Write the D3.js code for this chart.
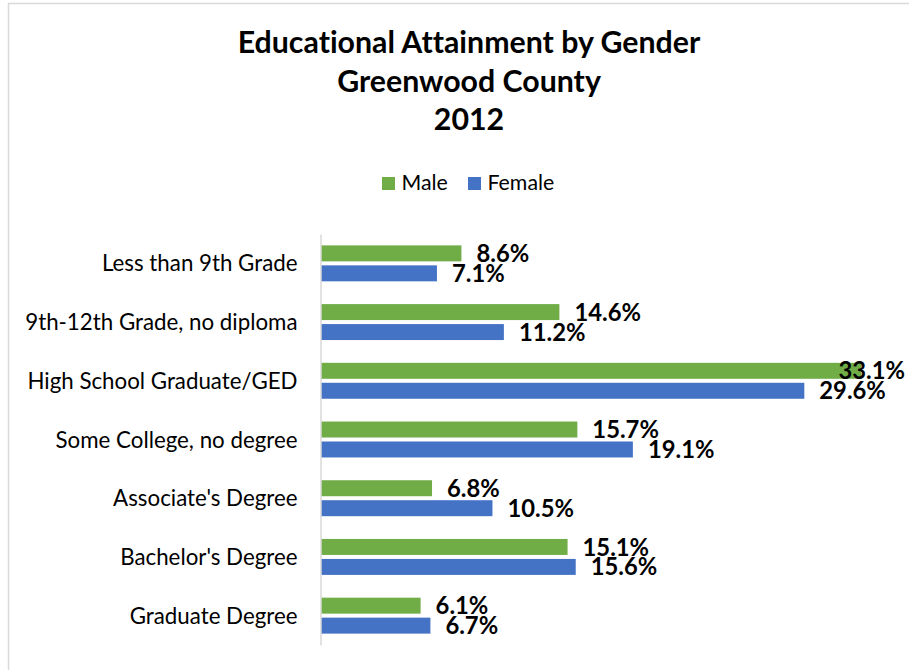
<!DOCTYPE html>
<html>
<head>
<meta charset="utf-8">
<script src="https://cdn.jsdelivr.net/npm/d3@7"></script>
<style>
  html, body { margin: 0; padding: 0; background: #fff; }
  svg { display: block; font-family: Lato, "Open Sans", sans-serif; font-variant-ligatures: none; }
</style>
</head>
<body>
<svg id="chart" width="909" height="670"></svg>
<script>
// Educational attainment (% of population 25+) by gender
const categories = [
  "Less than 9th Grade",
  "9th-12th Grade, no diploma",
  "High School Graduate/GED",
  "Some College, no degree",
  "Associate's Degree",
  "Bachelor's Degree",
  "Graduate Degree"
];
const seriesNames = ["Male", "Female"];
const maleValues   = [8.6, 14.6, 33.1, 15.7, 6.8, 15.1, 6.1];
const femaleValues = [7.1, 11.2, 29.6, 19.1, 10.5, 15.6, 6.7];
const seriesColors = ["#70AD47", "#4472C4"];
const titleLines = ["Educational Attainment by Gender", "Greenwood County", "2012"];

const rows = categories.map((c, i) => ({
  category: c,
  values: [
    { series: "Male", value: maleValues[i] },
    { series: "Female", value: femaleValues[i] }
  ]
}));

const svg = d3.select("#chart");
const centerX = 469;

// chart frame
svg.append("rect")
  .attr("x", 8.5).attr("y", 3.5)
  .attr("width", 940).attr("height", 700)
  .attr("fill", "#fff")
  .attr("stroke", "#d9d9d9")
  .attr("stroke-width", 1.5);

// title
svg.append("g").selectAll("text")
  .data(titleLines)
  .join("text")
  .attr("x", centerX)
  .attr("y", (d, i) => 53 + i * 38.5)
  .attr("text-anchor", "middle")
  .attr("font-weight", 700)
  .attr("font-size", 30.3)
  .attr("fill", "#000")
  .text(d => d);

// legend
const color = d3.scaleOrdinal().domain(seriesNames).range(seriesColors);
const legendX = [382, 468];
const legend = svg.append("g").selectAll("g")
  .data(seriesNames)
  .join("g")
  .attr("transform", (d, i) => `translate(${legendX[i]},177)`);
legend.append("rect")
  .attr("width", 13).attr("height", 13)
  .attr("fill", d => color(d));
legend.append("text")
  .attr("x", 19.5).attr("y", 13)
  .attr("font-size", 21.3)
  .attr("fill", "#000")
  .text(d => d);

// scales
const x = d3.scaleLinear().domain([0, 35]).range([321, 892.5]);
const y0 = d3.scaleBand().domain(categories).range([234, 645]);
const y1 = d3.scaleBand().domain(seriesNames)
  .range([0, y0.bandwidth()])
  .paddingInner(0.2)
  .paddingOuter(0.57);

// bars
const groups = svg.append("g").selectAll("g")
  .data(rows)
  .join("g")
  .attr("transform", d => `translate(0,${y0(d.category)})`);

groups.selectAll("rect")
  .data(d => d.values)
  .join("rect")
  .attr("x", x(0))
  .attr("y", d => y1(d.series))
  .attr("width", d => x(d.value) - x(0))
  .attr("height", y1.bandwidth())
  .attr("fill", d => color(d.series));

// value labels, kept inside the chart's right edge
const labelSize = 23.8;
const rightLimit = 905;
groups.selectAll("text.value")
  .data(d => d.values)
  .join("text")
  .attr("class", "value")
  .attr("font-weight", 700)
  .attr("font-size", labelSize)
  .attr("fill", "#000")
  .attr("y", d => y1(d.series) + y1.bandwidth() / 2 + labelSize * 0.36)
  .text(d => d.value.toFixed(1) + "%")
  .attr("x", function (d) {
    const start = x(d.value) + 15;
    const w = this.getComputedTextLength();
    return Math.min(start, rightLimit - w);
  });

// category axis
const axis = svg.append("g")
  .attr("transform", "translate(320.5,0)")
  .call(d3.axisLeft(y0).tickSize(0).tickSizeOuter(0).tickPadding(23));
axis.select(".domain").attr("stroke", "#d9d9d9").attr("stroke-width", 1.5);
axis.selectAll(".tick text")
  .attr("font-family", "Lato, 'Open Sans', sans-serif")
  .attr("font-size", 22.3)
  .attr("fill", "#000")
  .attr("dy", "0.36em");
</script>
</body>
</html>
